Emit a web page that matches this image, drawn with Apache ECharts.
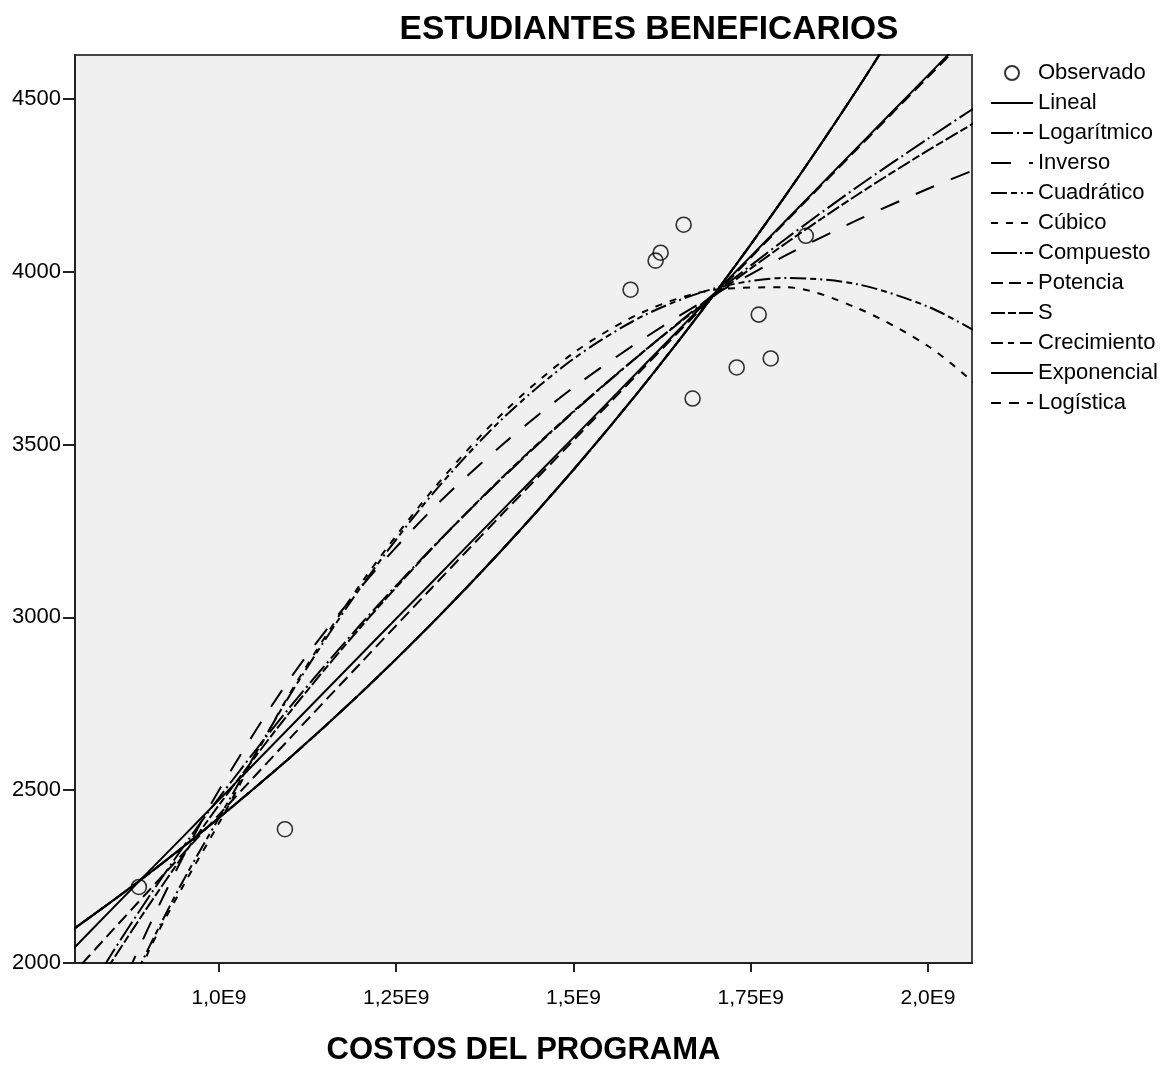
<!DOCTYPE html>
<html><head><meta charset="utf-8">
<script src="https://cdn.jsdelivr.net/npm/echarts@6/dist/echarts.min.js"></script>
<style>html,body{margin:0;padding:0;background:#fff}#c{width:1165px;height:1065px}</style>
</head><body><div id="c"></div>
<script>
// Observed points
const obsCost = [0.887e9, 1.093e9, 1.5805e9, 1.6158e9, 1.6229e9, 1.6554e9, 1.668e9, 1.7302e9, 1.7613e9, 1.7782e9, 1.8277e9];
const obsStudents = [2220, 2387, 3948, 4032, 4055, 4136, 3633, 3723, 3876, 3749, 4104];

// Fitted curves, read at these costs
const fitCost = [0.79e9, 0.85e9, 0.90e9, 0.95e9, 1.0e9, 1.1e9, 1.2e9, 1.3e9, 1.4e9, 1.5e9, 1.6e9, 1.7e9, 1.8e9, 1.9e9, 2.0e9, 2.07e9];
const lineal      = [2032, 2158, 2263, 2367, 2472, 2682, 2892, 3101, 3311, 3520, 3730, 3940, 4149, 4359, 4568, 4715];
const logaritmico = [1829, 2031, 2188, 2337, 2478, 2740, 2980, 3200, 3404, 3594, 3771, 3938, 4096, 4245, 4385, 4480];
const inverso     = [1560, 1870, 2100, 2310, 2500, 2822, 3087, 3311, 3500, 3665, 3808, 3935, 4048, 4149, 4240, 4298];
const cuadratico  = [1560, 1820, 2040, 2240, 2420, 2775, 3087, 3354, 3575, 3748, 3874, 3952, 3982, 3964, 3899, 3824];
const cubico      = [1500, 1770, 2030, 2225, 2405, 2780, 3097, 3365, 3590, 3765, 3885, 3948, 3955, 3895, 3785, 3670];
const potencia    = [1960, 2095, 2207, 2318, 2429, 2650, 2868, 3085, 3300, 3512, 3724, 3935, 4146, 4355, 4563, 4708];
const sCurve      = [1813, 2008, 2164, 2313, 2457, 2726, 2972, 3198, 3406, 3596, 3771, 3933, 4083, 4222, 4351, 4436];
const exponencial = [2091, 2180, 2257, 2337, 2420, 2594, 2781, 2982, 3197, 3427, 3674, 3939, 4223, 4527, 4854, 5096];
const compuesto   = exponencial;
const crecimiento = exponencial;
const logistica   = exponencial;

// Tick labels
const xTickValues = [1.0e9, 1.25e9, 1.5e9, 1.75e9, 2.0e9];
const xTickLabels = ['1,0E9', '1,25E9', '1,5E9', '1,75E9', '2,0E9'];
const yTickValues = [2000, 2500, 3000, 3500, 4000, 4500];
const yTickLabels = ['2000', '2500', '3000', '3500', '4000', '4500'];

const pair = (xs, ys) => xs.map((x, i) => [x, ys[i]]);
const FONT = 'Liberation Sans, Arial, sans-serif';

const lineDefs = [
  ['Lineal', lineal, 'solid'],
  ['Logarítmico', logaritmico, [22, 4, 2, 4]],
  ['Inverso', inverso, [20, 18]],
  ['Cuadrático', cuadratico, [16, 4, 6, 4, 2, 4]],
  ['Cúbico', cubico, [7, 8]],
  ['Compuesto', compuesto, [26, 3, 2, 3]],
  ['Potencia', potencia, [12, 6]],
  ['S', sCurve, [14, 3, 8, 3]],
  ['Crecimiento', crecimiento, [12, 5, 6, 6]],
  ['Exponencial', exponencial, 'solid'],
  ['Logística', logistica, [10, 8]]
];

const series = [{
  name: 'Observado', type: 'scatter', data: pair(obsCost, obsStudents),
  symbol: 'circle', symbolSize: 15,
  itemStyle: {color: 'rgba(0,0,0,0)', borderColor: '#000', borderWidth: 1.6},
  z: 5
}];
lineDefs.forEach(([name, vals, dash]) => {
  series.push({
    name, type: 'line', data: pair(fitCost, vals), smooth: 0.3,
    symbol: 'none', clip: true,
    itemStyle: {color: '#000'},
    lineStyle: {color: '#000', width: 2, type: dash}
  });
});

const legendData = [{name: 'Observado'}].concat(lineDefs.map(d => ({name: d[0], itemStyle: {opacity: 0}})));

const chart = echarts.init(document.getElementById('c'));
chart.setOption({
  animation: false,
  backgroundColor: '#fff',
  title: {
    text: 'ESTUDIANTES BENEFICARIOS', left: 644, top: 8, textAlign: 'center',
    textStyle: {fontFamily: FONT, fontSize: 33.5, fontWeight: 'bold', color: '#000'}
  },
  grid: {left: 75, right: 193, top: 55, bottom: 102, show: true, outerBoundsMode: 'none', containLabel: false,
    backgroundColor: '#f0f0f0', borderColor: '#444', borderWidth: 2},
  legend: {
    orient: 'vertical', left: 990, top: 62, padding: 0, itemWidth: 42, itemHeight: 14, itemGap: 8,
    textStyle: {fontFamily: FONT, fontSize: 22, color: '#000', lineHeight: 22},
    data: legendData
  },
  xAxis: {
    type: 'value', min: 0.7969e9, max: 2.0621e9,
    name: 'COSTOS DEL PROGRAMA', nameLocation: 'middle', nameGap: 72,
    nameTextStyle: {fontFamily: FONT, fontSize: 31, fontWeight: 'bold', color: '#000'},
    axisLine: {show: true, lineStyle: {color: '#222', width: 2}},
    axisTick: {show: true, length: 9, lineStyle: {color: '#222', width: 2}, customValues: xTickValues},
    axisLabel: {fontFamily: FONT, fontSize: 21, color: '#000', margin: 25, customValues: xTickValues,
      formatter: v => { const i = xTickValues.findIndex(t => Math.abs(t - v) < 1e3); return i >= 0 ? xTickLabels[i] : ''; }},
    splitLine: {show: false}
  },
  yAxis: {
    type: 'value', min: 2000, max: 4627,
    axisLine: {show: true, lineStyle: {color: '#222', width: 2}},
    axisTick: {show: true, length: 12, lineStyle: {color: '#222', width: 2}, customValues: yTickValues},
    axisLabel: {fontFamily: FONT, fontSize: 22, color: '#000', margin: 14, customValues: yTickValues,
      formatter: v => { const i = yTickValues.findIndex(t => Math.abs(t - v) < 0.5); return i >= 0 ? yTickLabels[i] : ''; }},
    splitLine: {show: false}
  },
  series
});
</script>
</body></html>
